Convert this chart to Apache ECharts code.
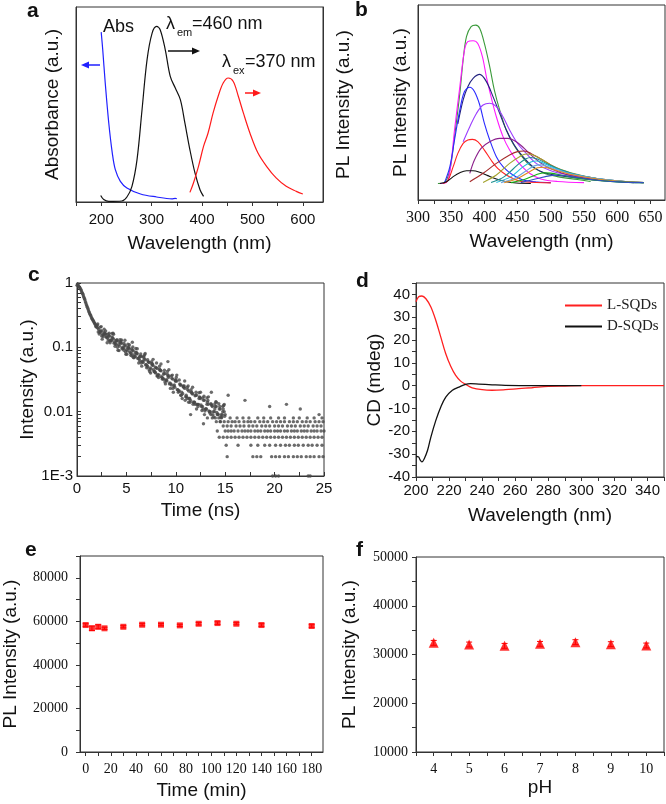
<!DOCTYPE html>
<html>
<head>
<meta charset="utf-8">
<script src="https://cdn.jsdelivr.net/npm/echarts@6/dist/echarts.min.js"></script>
<style>
html, body { margin: 0; padding: 0; background: #fff; }
#chart { width: 666px; height: 804px; }
</style>
</head>
<body>
<div id="chart"></div>
<script>
var SANS = 'Liberation Sans, Arial, sans-serif';
var SERIF = 'Liberation Serif, Times New Roman, serif';
var AXIS = '#333';

// ---- panel a : absorbance / excitation / emission (normalised) ----
var absSpec = [[200,0.847],[203,0.76],[208,0.593],[215,0.394],[222,0.244],[228,0.161],[238,0.103],[251,0.07],[278,0.04],[310,0.025],[340,0.016],[347,0.018],[350,0.016]];
var exSpec = [[199,0.032],[205,0.012],[215,0.003],[241,0.005],[251,0.025],[261,0.078],[271,0.21],[281,0.46],[291,0.71],[301,0.842],[310,0.875],[317,0.859],[327,0.76],[337,0.626],[347,0.568],[357,0.51],[366,0.394],[376,0.26],[386,0.145],[396,0.061],[403,0.028]];
var emSpec = [[376,0.048],[383,0.095],[393,0.178],[403,0.277],[412,0.344],[422,0.444],[432,0.527],[442,0.593],[452,0.618],[462,0.601],[472,0.527],[482,0.444],[495,0.344],[511,0.244],[528,0.178],[547,0.12],[567,0.078],[587,0.053],[600,0.04]];
var aTickLabels = [200, 300, 400, 500, 600];
var aTicks = [150, 200, 250, 300, 350, 400, 450, 500, 550, 600];

// ---- panel b : PL at different excitation wavelengths ----
var plNames = ['green', 'magenta', 'navy', 'blue', 'violet', 'red', 'purple', 'black', 'brown', 'olive', 'teal', 'cyan', 'sky', 'orange', 'lime', 'steel'];
var plColors = ['#3a9a3a', '#ff1aff', '#22227f', '#2a2aff', '#9b3cff', '#ff2222', '#8b1f8b', '#111111', '#a52a2a', '#a3a32e', '#1a8f8f', '#22bcdc', '#6aa6e0', '#e08a20', '#12b012', '#3050c0'];
var plCurves = [
  [[330,0.085],[340,0.09],[348,0.154],[355,0.325],[363,0.547],[368,0.718],[373,0.838],[380,0.889],[387,0.897],[393,0.88],[400,0.803],[408,0.684],[415,0.564],[423,0.462],[433,0.359],[443,0.29],[453,0.239],[468,0.18],[488,0.14],[510,0.12],[540,0.105],[560,0.095]],
  [[333,0.085],[343,0.09],[349,0.171],[355,0.359],[363,0.581],[370,0.769],[375,0.812],[383,0.817],[390,0.803],[397,0.735],[403,0.632],[410,0.53],[418,0.427],[428,0.325],[438,0.256],[450,0.197],[468,0.137],[485,0.108],[510,0.095],[550,0.089]],
  [[360,0.39],[368,0.513],[375,0.581],[383,0.624],[393,0.644],[403,0.607],[413,0.53],[423,0.444],[433,0.359],[445,0.282],[458,0.222],[473,0.171],[490,0.14],[525,0.12],[575,0.1],[625,0.089]],
  [[340,0.089],[348,0.171],[355,0.308],[363,0.462],[370,0.556],[378,0.578],[385,0.556],[393,0.487],[400,0.393],[408,0.308],[418,0.222],[428,0.171],[443,0.128],[458,0.103],[480,0.092],[500,0.089]],
  [[368,0.299],[378,0.376],[388,0.444],[398,0.487],[408,0.496],[418,0.479],[428,0.427],[438,0.359],[450,0.29],[463,0.239],[478,0.188],[500,0.15],[525,0.13],[575,0.105],[625,0.09]],
  [[338,0.085],[345,0.1],[353,0.171],[360,0.239],[368,0.29],[375,0.308],[382,0.311],[390,0.299],[400,0.256],[410,0.205],[420,0.162],[433,0.128],[448,0.103],[463,0.092],[500,0.088]],
  [[378,0.137],[385,0.205],[395,0.265],[408,0.299],[423,0.316],[435,0.316],[448,0.299],[460,0.265],[473,0.222],[485,0.19],[500,0.16],[530,0.125],[570,0.105],[620,0.09]],
  [[333,0.085],[343,0.094],[353,0.12],[363,0.14],[373,0.15],[383,0.15],[393,0.142],[405,0.125],[418,0.108],[433,0.094],[448,0.087],[470,0.085]],
  [[378,0.094],[398,0.137],[418,0.188],[438,0.231],[450,0.248],[460,0.251],[470,0.239],[483,0.214],[500,0.18],[525,0.14],[560,0.115],[600,0.098],[640,0.089]],
  [[398,0.09],[418,0.128],[438,0.188],[453,0.222],[463,0.236],[473,0.231],[488,0.205],[505,0.17],[530,0.14],[570,0.11],[620,0.092]],
  [[410,0.09],[430,0.12],[450,0.18],[462,0.21],[470,0.218],[480,0.21],[495,0.185],[515,0.155],[545,0.125],[590,0.1],[640,0.089]],
  [[418,0.09],[440,0.12],[458,0.17],[470,0.195],[478,0.2],[488,0.19],[503,0.168],[525,0.14],[560,0.115],[600,0.098],[640,0.089]],
  [[425,0.089],[445,0.11],[463,0.15],[475,0.175],[485,0.18],[495,0.172],[510,0.155],[535,0.13],[570,0.11],[620,0.092]],
  [[430,0.089],[450,0.11],[468,0.145],[480,0.165],[490,0.168],[500,0.16],[520,0.14],[550,0.118],[590,0.1],[640,0.089]],
  [[440,0.089],[460,0.105],[478,0.13],[490,0.14],[500,0.138],[520,0.125],[550,0.108],[600,0.093],[640,0.089]],
  [[455,0.089],[480,0.11],[500,0.125],[512,0.128],[530,0.12],[560,0.105],[600,0.093],[640,0.089]]
];
var bTickLabels = [300, 350, 400, 450, 500, 550, 600, 650];
var bTicks = [300, 325, 350, 375, 400, 425, 450, 475, 500, 525, 550, 575, 600, 625, 650];

// ---- panel c : PL decay (log) ----
var decayA = [[0,0.92],[0.2,0.88],[0.4,0.79],[0.6,0.67],[0.8,0.55],[1,0.44],[1.2,0.36],[1.4,0.31],[1.6,0.265],[1.8,0.235],[2,0.205],[2.2,0.19],[2.4,0.18],[2.6,0.16],[2.8,0.165],[3,0.145],[3.2,0.15],[3.4,0.13],[3.6,0.14],[3.8,0.12],[4,0.128],[4.2,0.11],[4.4,0.118],[4.6,0.1],[4.8,0.108],[5,0.092],[5.2,0.097],[5.4,0.082],[5.6,0.09],[5.8,0.077],[6,0.083],[6.2,0.068],[6.4,0.073],[6.6,0.06],[6.8,0.066],[7,0.054],[7.2,0.06],[7.4,0.048],[7.6,0.053],[7.8,0.042],[8,0.048],[8.2,0.038],[8.4,0.044],[8.6,0.034],[8.8,0.04],[9,0.031],[9.2,0.036],[9.4,0.028],[9.6,0.033],[9.8,0.025],[10,0.03],[10.2,0.022],[10.4,0.027],[10.6,0.02],[10.8,0.024],[11,0.017],[11.2,0.022],[11.4,0.016],[11.6,0.02],[11.8,0.014],[12,0.018],[12.2,0.013],[12.4,0.017],[12.6,0.012],[12.8,0.015],[13,0.011],[13.2,0.014],[13.4,0.01],[13.6,0.013],[13.8,0.01],[14,0.012],[14.2,0.009],[14.4,0.011],[14.6,0.009],[14.8,0.011],[15,0.009]];
var decayB = [[0.1,0.95],[0.3,0.84],[0.5,0.72],[0.7,0.6],[0.9,0.49],[1.1,0.4],[1.3,0.33],[1.5,0.28],[1.7,0.25],[1.9,0.21],[2.1,0.2],[2.3,0.175],[2.5,0.18],[2.7,0.155],[2.9,0.16],[3.1,0.14],[3.3,0.15],[3.5,0.128],[3.7,0.135],[3.9,0.115],[4.1,0.125],[4.3,0.105],[4.5,0.115],[4.7,0.098],[4.9,0.105],[5.1,0.088],[5.3,0.095],[5.5,0.08],[5.7,0.088],[5.9,0.072],[6.1,0.08],[6.3,0.066],[6.5,0.072],[6.7,0.058],[6.9,0.064],[7.1,0.052],[7.3,0.058],[7.5,0.046],[7.7,0.052],[7.9,0.041],[8.1,0.047],[8.3,0.037],[8.5,0.043],[8.7,0.033],[8.9,0.039],[9.1,0.03],[9.3,0.036],[9.5,0.027],[9.7,0.032],[9.9,0.024],[10.1,0.03],[10.3,0.021],[10.5,0.026],[10.7,0.019],[10.9,0.023],[11.1,0.017],[11.3,0.021],[11.5,0.015],[11.7,0.019],[11.9,0.014],[12.1,0.018],[12.3,0.013],[12.5,0.016],[12.7,0.012],[12.9,0.015],[13.1,0.011],[13.3,0.013],[13.5,0.01],[13.7,0.012],[13.9,0.01],[14.1,0.012],[14.3,0.009],[14.5,0.011],[14.7,0.009],[14.9,0.01]];
var decayC = [[2.1,0.23],[2.5,0.15],[2.9,0.18],[3.3,0.125],[3.7,0.16],[4.1,0.1],[4.5,0.13],[4.9,0.085],[5.3,0.11],[5.7,0.07],[6.1,0.095],[6.5,0.057],[6.9,0.08],[7.3,0.045],[7.7,0.065],[8.1,0.036],[8.5,0.055],[8.9,0.029],[9.3,0.045],[9.7,0.023],[10.1,0.037],[10.5,0.018],[10.9,0.03],[11.3,0.014],[11.7,0.024],[12.1,0.011],[12.5,0.02],[12.9,0.009],[13.3,0.017],[13.7,0.008],[14.1,0.014],[14.5,0.007],[14.9,0.013],[5.6,0.12],[9.2,0.06],[13.6,0.02],[15.3,0.018],[17.0,0.015],[19.5,0.012],[21.2,0.013],[22.6,0.011],[24.5,0.009],[11.5,0.009],[12.8,0.0065],[14.2,0.005]];
var decayD = [[2.35,0.17],[2.75,0.17],[3.15,0.13],[3.55,0.145],[3.95,0.11],[4.35,0.12],[4.75,0.09],[5.15,0.1],[5.55,0.074],[5.95,0.084],[6.35,0.062],[6.75,0.07],[7.15,0.05],[7.55,0.056],[7.95,0.04],[8.35,0.046],[8.75,0.032],[9.15,0.038],[9.55,0.026],[9.95,0.031],[10.35,0.021],[10.75,0.025],[11.15,0.016],[11.55,0.02],[11.95,0.013],[12.35,0.016],[12.75,0.011],[13.15,0.013],[13.55,0.009],[13.95,0.011],[14.35,0.008],[14.75,0.01]];
var decayE = [[0.05,0.97],[0.15,0.9],[0.25,0.85],[0.35,0.81],[0.45,0.75],[0.55,0.69],[0.65,0.63],[0.75,0.57],[0.85,0.51],[0.95,0.46],[1.05,0.42],[1.15,0.38],[1.25,0.345],[1.35,0.32],[1.45,0.295],[1.55,0.275],[1.65,0.26],[1.75,0.24],[1.85,0.225],[1.95,0.215],
  [2.05,0.22],[2.25,0.161],[2.45,0.21],[2.65,0.147],[2.85,0.163],[3.05,0.118],[3.25,0.166],[3.45,0.128],[3.65,0.166],[3.85,0.104],[4.05,0.131],[4.25,0.089],[4.45,0.125],[4.65,0.096],[4.85,0.129],[5.05,0.078],[5.25,0.102],[5.45,0.075],[5.65,0.101],[5.85,0.071],[6.05,0.079],[6.25,0.057],[6.45,0.079],[6.65,0.061],[6.85,0.077],[7.05,0.048],[7.25,0.059],[7.45,0.04],[7.65,0.055],[7.85,0.042],[8.05,0.057],[8.25,0.034],[8.45,0.044],[8.65,0.032],[8.85,0.044],[9.05,0.031],[9.25,0.034],[9.45,0.023],[9.65,0.037],[9.85,0.026],[10.05,0.034],[10.25,0.02],[10.45,0.026],[10.65,0.016],[10.85,0.025],[11.05,0.018],[11.25,0.025],[11.45,0.014],[11.65,0.019],[11.85,0.014],[12.05,0.02],[12.25,0.012],[12.45,0.0166],[12.65,0.0104],[12.85,0.0174],[13.05,0.011],[13.25,0.0149],[13.45,0.0095],[13.65,0.0125],[13.85,0.0083],[14.05,0.0143],[14.25,0.0092],[14.45,0.012],[14.65,0.0082],[14.85,0.0125]];
var decayF = [[2.15,0.173],[2.35,0.206],[2.55,0.134],[2.75,0.191],[2.95,0.144],[3.15,0.16],[3.35,0.118],[3.55,0.165],[3.75,0.116],[3.95,0.127],[4.15,0.09],[4.35,0.131],[4.55,0.095],[4.75,0.116],[4.95,0.078],[5.15,0.112],[5.35,0.085],[5.55,0.094],[5.75,0.069],[5.95,0.096],[6.15,0.067],[6.35,0.072],[6.55,0.051],[6.75,0.073],[6.95,0.053],[7.15,0.064],[7.35,0.042],[7.55,0.06],[7.75,0.045],[7.95,0.049],[8.15,0.036],[8.35,0.051],[8.55,0.035],[8.75,0.038],[8.95,0.027],[9.15,0.042],[9.35,0.027],[9.55,0.036],[9.75,0.02],[9.95,0.03],[10.15,0.022],[10.35,0.031],[10.55,0.018],[10.75,0.0245],[10.95,0.015],[11.15,0.024],[11.35,0.016],[11.55,0.022],[11.75,0.013],[11.95,0.0176],[12.15,0.0129],[12.35,0.0197],[12.55,0.0127],[12.75,0.0163],[12.95,0.0102],[13.15,0.0164],[13.35,0.0103],[13.55,0.0133],[13.75,0.009],[13.95,0.0132],[14.15,0.0097],[14.35,0.0133],[14.55,0.0083],[14.75,0.0121],[14.95,0.0085]];
// photon-count floor: discrete levels and the times at which points sit on them
var tailLevels = [0.008, 0.007, 0.006, 0.005, 0.004, 0.003, 0.002, 0.001];
var tailTimes = [
  [13.2,14.0,14.6,15.5,16.2,16.8,17.4,18.3,18.9,19.6,20.4,21.0,21.9,22.5,23.3,24.0,24.8],
  [14.1,14.5,14.9,15.3,15.7,16.0,16.4,16.9,17.3,17.6,18.0,18.5,18.9,19.3,19.8,20.2,20.6,21.0,21.5,21.9,22.3,22.8,23.2,23.6,24.1,24.5,24.9],
  [14.8,15.2,15.6,16.1,16.5,16.9,17.4,17.8,18.2,18.7,19.1,19.5,20.0,20.4,20.8,21.3,21.7,22.1,22.6,23.0,23.4,23.9,24.3,24.7],
  [15.0,15.3,15.6,15.9,16.3,16.7,17.0,17.3,17.6,18.0,18.3,18.6,19.0,19.3,19.6,20.0,20.3,20.6,21.0,21.3,21.7,22.0,22.3,22.7,23.0,23.3,23.7,24.0,24.3,24.7,25.0],
  [14.4,14.8,15.2,15.6,16.0,16.4,16.8,17.2,17.6,18.0,18.4,18.8,19.2,19.6,20.0,20.4,20.8,21.2,21.6,22.0,22.4,22.8,23.2,23.6,24.0,24.4,24.8],
  [15.1,16.3,17.6,18.3,19.0,19.5,20.1,20.6,21.1,21.5,22.0,22.4,22.9,23.4,23.8,24.3,24.8],
  [15.2,17.8,18.2,18.6,19.7,20.1,20.5,21.0,21.4,21.9,22.3,22.7,23.2,23.6,24.0,24.5,24.9],
  [19.8,20.1,20.4,23.4,23.6]
];
var cTickLabels = [0, 5, 10, 15, 20, 25];
var cTicks = [0, 2.5, 5, 7.5, 10, 12.5, 15, 17.5, 20, 22.5, 25];
var cLogLabels = [0.001, 0.01, 0.1, 1];
var cLogTicks = [0.001,0.002,0.003,0.004,0.005,0.006,0.007,0.008,0.009,0.01,0.02,0.03,0.04,0.05,0.06,0.07,0.08,0.09,0.1,0.2,0.3,0.4,0.5,0.6,0.7,0.8,0.9,1];

// ---- panel d : CD spectra ----
var cdL = [[200,36.8],[201.6,39],[203.6,39.3],[206,38.1],[209,34.5],[212,28.6],[215,21.3],[218,14],[221,8.5],[224,4.5],[227,2],[230,0.6],[234,-0.9],[240,-1.75],[246,-2],[254,-1.75],[262,-1.3],[270,-0.9],[280,-0.3],[290,-0.15],[300,0],[320,0],[350,0]];
var cdD = [[200,-31],[201.6,-31.2],[202.4,-32.4],[203.6,-33.4],[205,-32],[207,-28.3],[209,-22.5],[212,-15.2],[215,-9.3],[218,-5],[222,-2],[226,-0.6],[230,0.6],[233,0.9],[238,0.7],[246,0.4],[254,0.15],[270,0],[290,0],[300,0]];
var dTickLabels = [200, 220, 240, 260, 280, 300, 320, 340];
var dTicks = [200,210,220,230,240,250,260,270,280,290,300,310,320,330,340,350];
var dYLabels = [-40, -30, -20, -10, 0, 10, 20, 30, 40];
var dYTicks = [-40,-35,-30,-25,-20,-15,-10,-5,0,5,10,15,20,25,30,35,40,45];

// ---- panel e : stability over time ----
var eTime = [0, 5, 10, 15, 30, 45, 60, 75, 90, 105, 120, 140, 180];
var eValue = [58300, 56800, 57500, 56800, 57500, 58450, 58450, 58150, 58900, 59200, 58900, 58300, 57850];
var eError = [600, 1000, 900, 500, 500, 500, 500, 500, 600, 600, 500, 600, 600];
var eTickLabels = [0, 20, 40, 60, 80, 100, 120, 140, 160, 180];
var eTicks = [0,10,20,30,40,50,60,70,80,90,100,110,120,130,140,150,160,170,180];
var eYLabels = [0, 20000, 40000, 60000, 80000];
var eYTicks = [0,10000,20000,30000,40000,50000,60000,70000,80000,90000];

// ---- panel f : stability vs pH ----
var fPH = [4, 5, 6, 7, 8, 9, 10];
var fValue = [32390, 32050, 31770, 32180, 32530, 32120, 31840];
var fError = [500, 500, 500, 500, 500, 500, 500];
var fTickLabels = [4, 5, 6, 7, 8, 9, 10];
var fTicks = [3.5,4,4.5,5,5.5,6,6.5,7,7.5,8,8.5,9,9.5,10,10.5];
var fYLabels = [10000, 20000, 30000, 40000, 50000];
var fYTicks = [10000,15000,20000,25000,30000,35000,40000,45000,50000];

var chart = echarts.init(document.getElementById('chart'));

function plain(v) { return String(v); }

function valAxis(gi, min, max, labels, ticks, font, size, margin, inside) {
  return {
    type: 'value', gridIndex: gi, min: min, max: max,
    splitLine: { show: false },
    axisLine: { show: true, onZero: false, lineStyle: { color: AXIS, width: 1 } },
    axisTick: labels ? { show: true, inside: !!inside, length: 4, customValues: ticks, lineStyle: { color: AXIS } } : { show: false },
    axisLabel: labels ? { show: true, customValues: labels, margin: margin, fontFamily: font, fontSize: size, color: '#111', formatter: plain } : { show: false },
    nameTextStyle: { fontFamily: SANS, fontSize: 19, color: '#111' }
  };
}

function named(ax, name, gap, extra) {
  ax.name = name;
  ax.nameLocation = 'middle';
  ax.nameGap = gap;
  if (extra) { for (var k in extra) ax[k] = extra[k]; }
  return ax;
}

function line(data, color, xi, yi, name, w) {
  return {
    type: 'line', name: name, xAxisIndex: xi, yAxisIndex: yi, data: data,
    smooth: 0.35, symbol: 'none', animation: false, silent: true,
    lineStyle: { color: color, width: w || 1.2 }, itemStyle: { color: color }
  };
}

function errorBars(xs, vs, es, color, xi, yi) {
  var data = xs.map(function (x, i) { return [x, vs[i] - es[i], vs[i] + es[i]]; });
  return {
    type: 'custom', xAxisIndex: xi, yAxisIndex: yi, data: data, silent: true, animation: false,
    renderItem: function (params, api) {
      var lo = api.coord([api.value(0), api.value(1)]);
      var hi = api.coord([api.value(0), api.value(2)]);
      var w = 3;
      var st = { stroke: color, lineWidth: 1 };
      return { type: 'group', children: [
        { type: 'line', shape: { x1: lo[0], y1: lo[1], x2: hi[0], y2: hi[1] }, style: st },
        { type: 'line', shape: { x1: lo[0] - w, y1: lo[1], x2: lo[0] + w, y2: lo[1] }, style: st },
        { type: 'line', shape: { x1: hi[0] - w, y1: hi[1], x2: hi[0] + w, y2: hi[1] }, style: st }
      ] };
    }
  };
}

function arrow(x1, x2, y, color) {
  var dir = x2 > x1 ? 1 : -1;
  return [
    { type: 'line', shape: { x1: x1, y1: y, x2: x2 - dir * 6, y2: y }, style: { stroke: color, lineWidth: 1.5 } },
    { type: 'polygon', shape: { points: [[x2, y], [x2 - dir * 8, y - 3.5], [x2 - dir * 8, y + 3.5]] }, style: { fill: color } }
  ];
}

function txt(x, y, s, font, size, weight, color, align) {
  return { type: 'text', x: x, y: y, style: { text: s, fontFamily: font, fontSize: size, fontWeight: weight || 'normal', fill: color || '#111', align: align || 'left', verticalAlign: 'middle' } };
}

var gridBox = { show: true, borderColor: AXIS, borderWidth: 1, backgroundColor: 'transparent', containLabel: false };
function grid(l, t, w, h) {
  var g = { left: l, top: t, width: w, height: h };
  for (var k in gridBox) g[k] = gridBox[k];
  return g;
}

var xAxes = [
  named(valAxis(0, 150, 640, aTickLabels, aTicks, SANS, 15, 10), 'Wavelength (nm)', 32),
  named(valAxis(1, 300, 672, bTickLabels, bTicks, SERIF, 16, 10), 'Wavelength (nm)', 32),
  named(valAxis(2, 0, 25, cTickLabels, cTicks, SANS, 15, 5, true), 'Time (ns)', 25),
  named(valAxis(3, 200, 350, dTickLabels, dTicks, SANS, 15, 6), 'Wavelength (nm)', 29),
  named(valAxis(4, -4.5, 189, eTickLabels, eTicks, SERIF, 14, 10), 'Time (min)', 29),
  named(valAxis(5, 3.5, 10.5, fTickLabels, fTicks, SERIF, 14, 10), 'pH', 26)
];

var cY = named(valAxis(2, 0.001, 1, cLogLabels, cLogTicks, SANS, 15, 4, true), 'Intensity (a.u.)', 40);
cY.type = 'log';
cY.logBase = 10;
cY.axisLabel.formatter = function (v) { return v === 0.001 ? '1E-3' : String(v); };

var yAxes = [
  named(valAxis(0, 0, 0.972), 'Absorbance (a.u.)', 14),
  named(valAxis(0, 0, 0.972), 'PL Intensity (a.u.)', 11, { position: 'right', nameRotate: 90 }),
  named(valAxis(1, 0, 1), 'PL Intensity (a.u.)', 8),
  cY,
  named(valAxis(3, -40, 45, dYLabels, dYTicks, SANS, 15, 6), 'CD (mdeg)', 32),
  named(valAxis(4, 0, 90000, eYLabels, eYTicks, SERIF, 14, 12), 'PL Intensity (a.u.)', 60),
  named(valAxis(5, 10000, 50000, fYLabels, fYTicks, SERIF, 14, 8), 'PL Intensity (a.u.)', 57)
];

var series = [];
series.push(line(absSpec, '#2020ff', 0, 0, 'Abs'));
series.push(line(exSpec, '#111111', 0, 0, 'Ex'));
series.push(line(emSpec, '#ff1a1a', 0, 0, 'Em'));
plCurves.forEach(function (c, i) { series.push(line(c, plColors[i], 1, 2, plNames[i], 1.1)); });

var decayPts = decayA.concat(decayB, decayC, decayD, decayE, decayF);
tailLevels.forEach(function (lv, i) {
  tailTimes[i].forEach(function (t) { decayPts.push([t, lv]); });
});
series.push({
  type: 'scatter', xAxisIndex: 2, yAxisIndex: 3, data: decayPts, symbol: 'circle', symbolSize: 3.4,
  itemStyle: { color: '#474747' }, silent: true, animation: false
});

series.push(line(cdL, '#ff2020', 3, 4, 'L-SQDs', 1.3));
series.push(line(cdD, '#111111', 3, 4, 'D-SQDs', 1.3));

series.push(errorBars(eTime, eValue, eError, '#ff0000', 4, 5));
series.push({
  type: 'scatter', xAxisIndex: 4, yAxisIndex: 5, symbol: 'rect', symbolSize: 6,
  data: eTime.map(function (t, i) { return [t, eValue[i]]; }),
  itemStyle: { color: '#ff0000' }, silent: true, animation: false
});

series.push(errorBars(fPH, fValue, fError, '#ff0000', 5, 6));
series.push({
  type: 'scatter', xAxisIndex: 5, yAxisIndex: 6, symbol: 'triangle', symbolSize: 10,
  data: fPH.map(function (p, i) { return [p, fValue[i]]; }),
  itemStyle: { color: '#ff0000' }, silent: true, animation: false
});

var graphics = [
  txt(27, 11, 'a', SANS, 21, 'bold'),
  txt(355, 10, 'b', SANS, 21, 'bold'),
  txt(28, 275, 'c', SANS, 21, 'bold'),
  txt(356, 281, 'd', SANS, 21, 'bold'),
  txt(25, 550, 'e', SANS, 21, 'bold'),
  txt(356, 550, 'f', SANS, 21, 'bold'),
  txt(103, 27, 'Abs', SANS, 18),
  txt(166, 24, 'λ', SANS, 18),
  txt(177, 33, 'em', SANS, 11),
  txt(192, 24, '=460 nm', SANS, 18),
  txt(222, 62, 'λ', SANS, 18),
  txt(233, 71, 'ex', SANS, 11),
  txt(245, 62, '=370 nm', SANS, 18)
].concat(arrow(100, 81, 65, '#2020ff'), arrow(168, 200, 51, '#111111'), arrow(245, 261, 93, '#ff1a1a'));

chart.setOption({
  animation: false,
  backgroundColor: '#fff',
  grid: [
    grid(76, 7, 247, 195),
    grid(418, 5, 247, 195),
    grid(77, 283, 247, 193),
    grid(416, 283, 248, 194),
    grid(77, 556, 246, 196),
    grid(416, 557, 248, 195)
  ],
  xAxis: xAxes,
  yAxis: yAxes,
  legend: {
    data: ['L-SQDs', 'D-SQDs'], orient: 'vertical', left: 560, top: 293,
    icon: 'rect', itemWidth: 37, itemHeight: 2, itemGap: 6,
    textStyle: { fontFamily: SERIF, fontSize: 15, color: '#222', lineHeight: 15 }
  },
  graphic: graphics,
  series: series
});
</script>
</body>
</html>
